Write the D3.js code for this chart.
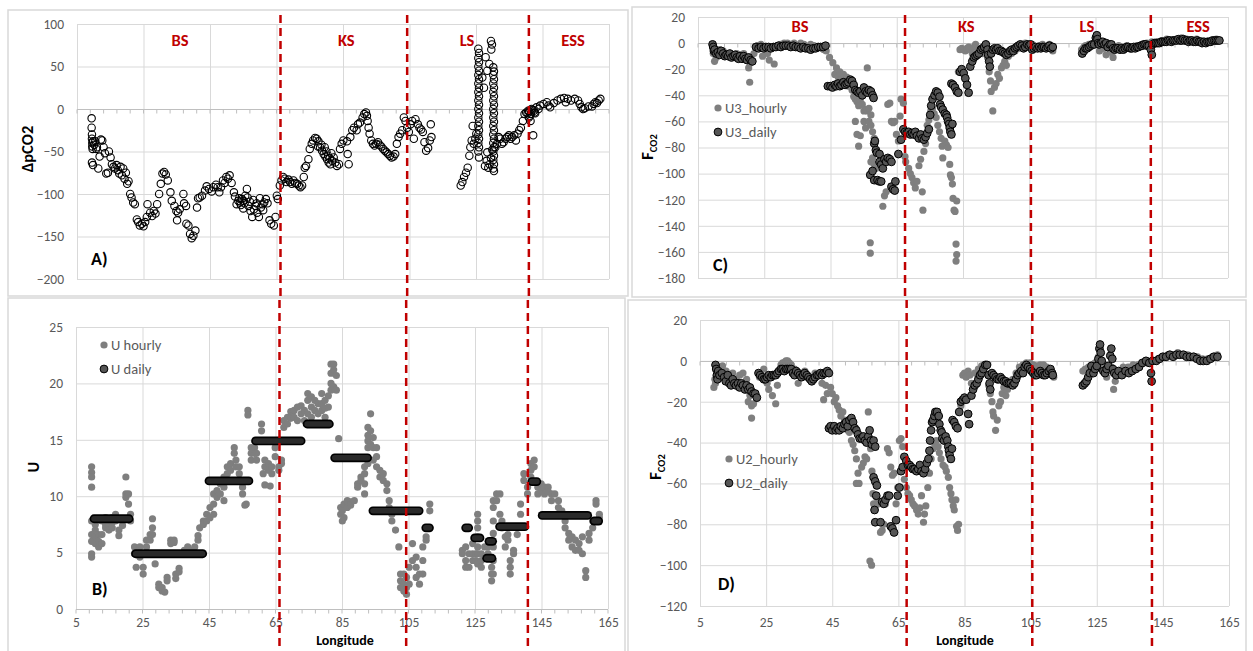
<!DOCTYPE html>
<html>
<head>
<meta charset="utf-8">
<script src="https://cdn.jsdelivr.net/npm/d3@7"></script>
<style>
  body { margin: 0; background: #fff; }
  svg { display: block; }
</style>
</head>
<body>
<svg id="chart" width="1253" height="651"></svg>
<script>
// ---------- axis ticks ----------
const lonTicks = [5, 25, 45, 65, 85, 105, 125, 145, 165];
const dpco2Ticks = [-200, -150, -100, -50, 0, 50, 100];
const uTicks = [0, 5, 10, 15, 20, 25];
const fluxU3Ticks = [-180, -160, -140, -120, -100, -80, -60, -40, -20, 0, 20];
const fluxU2Ticks = [-120, -100, -80, -60, -40, -20, 0, 20];

// ---------- sea regions and their boundaries (longitude) ----------
const regions = ["BS", "KS", "LS", "ESS"];
const regionLabelLonLeft = [36, 86, 122.3, 154.2];
const regionLabelLonRight = [35.8, 86, 122.4, 156];
const boundariesLeft = [66.2, 104.3, 140.9];
const boundariesRight = [67.5, 105.5, 141.7];

// ---------- A) delta pCO2 [lon, value] ----------
const dpco2BS = [[9.4,-11],[9.4,-22],[9.5,-30],[9.5,-35],[9.6,-40],[9.6,-44],[9.7,-47],[9.5,-63],[9.8,-66],[9.8,-38],[10.2,-42],[10.5,-38],[10.8,-47],[11,-45],[11.4,-70],[11.8,-56],[12.2,-36],[12.6,-37],[13,-45],[13.4,-52],[13.8,-76],[14.3,-75],[14.6,-50],[15.1,-57],[15.5,-65],[16,-68],[16.4,-70],[16.9,-66],[17.3,-72],[17.7,-76],[18.1,-68],[18.5,-78],[18.9,-70],[19.3,-82],[19.7,-75],[20.1,-88],[20.5,-85],
  [21,-100],[21.4,-104],[21.9,-110],[22.4,-112],[23,-130],[23.4,-133],[23.9,-137],[24.5,-135],[25,-138],[25.5,-133],[26,-127],[26.2,-112],[27,-122],[27.6,-126],[28.1,-120],[28.6,-123],[29.1,-112],[29.7,-100],[30.2,-88],[30.7,-76],[31.2,-74],[31.7,-77],[32.3,-84],[33.1,-98],[33.5,-108],[34.3,-114],[34.9,-120],[35.1,-131],[35.4,-122],[35.9,-118],[37,-100],[37.2,-111],[37.8,-114],[37.9,-135],[38.5,-137],[39,-147],[39.5,-152],[40,-149],[40.6,-143],[41.1,-116],[41.4,-105],[41.9,-104],[42.6,-102],[43.5,-96],[44,-91],[44.7,-94],[45.5,-97],[46,-92],[46.8,-89],[47.3,-92],[47.8,-98],[48.3,-92],[48.9,-84],[49.4,-87],[49.9,-80],[50.4,-82],[50.9,-78],[51.5,-87],[52.2,-98],[52.5,-103],[53,-112],[53.5,-108],[54,-110],[54.6,-106],[55.1,-108],[55.6,-102],[56.1,-94],[56.3,-104],[56.6,-114],[57.2,-120],[57.7,-127],[58.2,-118],[58.7,-114],[59.2,-122],[59.7,-127],[60.3,-116],[60.8,-112],[61.3,-110],[61.8,-106],[62.3,-111],[62.9,-131],[63.4,-135],[64.2,-137],[64.7,-127],[65.1,-102],[65.4,-106],
  [53.8,-105],[54.3,-113],[55.4,-111],[55,-117],[57,-109],[58,-107],[60,-105],[61,-119],[59,-111]];
const dpco2KS = [[66,-90],[66.5,-84],[67,-80],[67.5,-82],[68,-86],[68.6,-83],[69.1,-86],[69.6,-88],[70.1,-84],[70.6,-87],[71.2,-88],[71.7,-90],[72.2,-92],[72.7,-90],[73.2,-80],[73.5,-69],[73.9,-67],[74.6,-59],[75,-47],[75.6,-41],[76,-37],[76.6,-34],[77.1,-35],[77.6,-38],[78.1,-45],[78.7,-49],[79.2,-53],[79.7,-56],[80.2,-59],[80.7,-63],[81.2,-65],[81.7,-61],[82.2,-57],[82.7,-63],[83.2,-67],[83.8,-65],[84.1,-47],[84.6,-41],[85.1,-37],[86.2,-38],[86.4,-53],[86.7,-65],[87.2,-33],[87.8,-25],[88.3,-22],[89.1,-25],[89.5,-18],[90.1,-16],[90.9,-10],[91.4,-6],[91.9,-4],[92.2,-8],[92.4,-14],[92.7,-22],[93,-29],[93.5,-37],[94,-41],[94.5,-43],[95,-41],[95.5,-39],[96,-42],[96.5,-44],[97.1,-47],[97.6,-49],[98.1,-51],[98.6,-53],[99.1,-55],[99.6,-57],[100.2,-56],[100.7,-53],[101.2,-41],[101.7,-33],[102.2,-29],[102.8,-25],[103.3,-10],[103.8,-14],[104.3,-22],[104.8,-27],[105.3,-18],[105.8,-14],[106.3,-35],[106.8,-12],[107.5,-18],[108,-22],[108.5,-24],[109,-27],[109.5,-39],[110,-49],[110.6,-46],[111.1,-37],[111.4,-18],[111.6,-33],
  [79.5,-45],[80,-50],[80.5,-55],[81,-58],[81.5,-52],[78.5,-42],[77.5,-44]];
const dpco2LS = [[120.4,-90],[120.9,-86],[121.4,-80],[122,-75],[122.5,-69],[123,-55],[123.3,-45],[123.7,-37],[124,-20],[124.3,-41],[124.8,-35],[125.1,-29],
  [125.7,71],[125.9,66],[125.7,60],[125.9,55],[125.7,50],[125.9,45],[125.7,40],[125.9,35],[125.7,30],[125.9,25],[125.7,20],[125.9,15],[125.7,10],[125.9,5],[125.7,0],[125.9,-5],[125.7,-10],[125.9,-15],[125.7,-20],[125.9,-25],[125.7,-30],[125.9,-35],[125.7,-40],[125.9,-45],[125.7,-50],[125.9,-57],
  [130.2,49],[130.4,44],[130.2,40],[130.4,35],[130.2,30],[130.4,25],[130.2,20],[130.4,15],[130.2,10],[130.4,5],[130.2,0],[130.4,-5],[130.2,-10],[130.4,-15],[130.2,-20],[130.4,-25],[130.2,-30],[130.4,-35],[130.2,-40],[130.4,-45],[130.2,-50],[130.4,-55],[130.2,-60],[130.4,-65],[130.2,-70],[130.4,-73],
  [127.9,61],[128.4,45],[129,53],[129.5,80],[129.8,76],[129.6,70],[127.4,25],[126.9,37],[127.7,-67],[128.2,-61],[128.7,-69],[129.1,-65],[128.4,-51],[129.5,-58],[129.9,-48],
  [130.8,-45],[131.3,-41],[131.8,-33],[132.3,-35],[132.8,-41],[133.3,-39],[133.9,-35],[134.4,-33],[134.9,-31],[135.4,-35],[135.9,-33],[136.5,-31],[137,-37],[137.5,-29],[138,-25],[138.5,-22],[139.1,-14],[139.6,-6],[140.1,-4]];
const dpco2ESS = [[140.7,-2],[141.2,-8],[141.4,-14],[141.7,0],[142.2,-31],[142.4,-2],[142.8,-5],[140.5,-5],[141,-3],[141.5,-6],[142,-1],[142.6,-4],[140.9,-10],[143.2,2],[143.8,0],[144.3,4],[145.3,6],[146.3,8],[146.8,4],[147.3,2],[148.4,7],[149.5,10],[150.5,12],[151.5,13],[152,8],[152.6,12],[153.6,10],[154.7,12],[155.7,10],[156.2,6],[156.7,2],[157.2,0],[157.7,1],[158.8,3],[159.9,3],[160.4,6],[160.9,8],[161.4,7],[161.9,10],[162.4,12]];

// ---------- B) wind speed: hourly [lon, U] and daily [lonFrom, lonTo, U] ----------
const uHourlyBS = [[9.7,12.6],[9.7,12.1],[9.7,11.7],[9.7,10.8],[9.7,7.8],[9.7,6.6],[9.7,6.0],[9.7,4.9],[9.7,4.6],[10.8,7.5],[10.8,7.0],[10.8,6.4],[10.8,5.8],[11.8,6.6],[11.8,6.0],[11.8,5.5],[12.8,7.8],[12.8,6.6],[12.8,5.8],[13.9,8.1],[13.9,7.5],[13.9,7.2],[14.9,7.8],[14.9,7.4],[14.9,7.0],[15.9,8.1],[15.9,7.7],[15.9,7.2],[16.9,8.4],[16.9,7.8],[17.9,7.0],[17.9,6.5],[19,7.8],[19,7.4],[20,11.7],[20,10.2],[20,9.9],[20.8,10.2],[20.8,9.3],[21.4,8.4],[21.4,7.8],
  [22.6,5.5],[22.6,4.9],[23.1,3.7],[24.2,5.5],[24.2,4.6],[25.2,3.7],[25.2,3.1],[26.2,6.1],[26.2,5.5],[27.3,6.6],[27.3,6.1],[28,8.0],[28,7.2],[28,6.6],[28.8,4.0],[29.9,2.2],[29.9,1.9],[30.9,1.9],[30.9,1.6],[31.7,1.5],[32.4,2.8],[32.4,2.5],[33.5,6.1],[33.5,5.8],[34.5,6.1],[34.5,5.9],[35,3.1],[35,2.7],[36,3.6],[36,3.3],[36.6,4.9],[37.6,5.2],[37.6,4.9],[38.6,5.5],[38.6,5.2],[39.7,5.2],[40.7,5.5],[41.7,6.5],[41.7,6.1],[42.2,7.2],[43.3,7.8],[43.3,7.5],[44.3,8.4],[44.3,7.8],
  [45.3,9.0],[45.3,8.1],[46.4,10.2],[46.4,9.3],[46.4,8.4],[47.4,10.5],[47.4,9.9],[48.4,11.1],[48.4,10.2],[49.5,11.7],[49.5,10.8],[49.5,9.6],[50.5,12.6],[50.5,12.0],[51.5,12.9],[51.5,12.3],[52.6,14.3],[52.6,13.8],[53.1,13.2],[53.1,12.6],[54.1,12.6],[54.1,12.0],[55.1,10.8],[55.1,10.2],[55.8,9.2],[56.2,9.3],[56.7,17.6],[56.7,17.2],[57.7,14.3],[57.7,13.8],[57.7,13.2],[58.7,14.3],[58.7,13.8],[59.3,13.8],[59.3,13.2],[60.8,16.4],[60.8,15.8],[61.3,12.0],[61.8,13.2],[61.8,12.6],[61.8,11.0],[62.9,12.9],[62.9,12.3],[63.4,10.9],[63.9,12.6],[63.9,12.0],[64.9,14.3],[64.9,13.5]];
const uHourlyKS = [[66,12.6],[66,12.3],[66.8,13.2],[66.8,12.9],[67.5,16.7],[67.5,16.1],[68.6,17.0],[68.6,16.4],[69.6,17.5],[69.6,16.9],[70.6,17.6],[70.6,17.0],[71.6,17.9],[71.6,16.7],[72.7,18.0],[72.7,17.3],[73.7,17.6],[73.7,16.7],[74.7,19.1],[74.7,18.5],[74.7,17.3],[75.8,18.8],[75.8,17.9],[75.8,17.0],[76.8,18.5],[76.8,17.6],[77.8,18.2],[77.8,17.3],[78.9,19.1],[78.9,18.2],[78.9,17.6],[79.9,18.5],[79.9,17.8],[79.9,17.0],[80.9,18.9],[80.9,17.9],[81.7,21.7],[81.7,20.9],[81.7,20.0],[81.7,19.4],[82.5,21.7],[82.5,21.2],[82.5,19.7],[83.3,20.7],[83.3,19.4],[84,15.1],
  [84.6,9.0],[84.6,8.4],[85.1,8.7],[85.1,7.8],[85.6,9.3],[85.6,8.1],[86.6,9.6],[86.6,9.0],[87.6,9.5],[87.6,9.2],[88.7,9.6],[89.7,11.1],[89.7,10.8],[90.7,11.7],[90.7,11.4],[91.8,12.6],[91.8,12.0],[91.8,11.1],[91.8,10.2],[92.8,16.1],[92.8,15.4],[92.8,14.9],[92.8,14.3],[92.8,12.9],[93.6,17.3],[93.6,15.8],[93.6,14.6],[94.4,15.2],[94.4,14.3],[94.4,13.2],[95.4,14.3],[95.4,13.5],[95.4,12.6],[96.4,12.3],[96.4,11.7],[97.4,12.0],[97.4,11.4],[98.5,11.1],[98.5,10.5],[99.2,9.6],[99.2,9.0],[100,8.4],[100,7.8],[101.1,7.0],[102.1,5.5],[102.6,3.1],[102.6,2.5],[102.6,1.9],[103.6,3.1],[103.6,2.2],[103.6,1.6],[104.4,2.8],[104.4,1.9],[104.4,1.3],[105.2,3.7],[105.2,2.2],[106.2,5.8],[106.2,4.3],[107.3,4.6],[107.3,3.7],[107.3,2.8],[108.3,3.1],[108.3,2.2],[109.3,5.5],[109.3,4.3],[109.3,3.1],[110.3,6.4],[110.3,6.1],[111.4,9.3],[111.4,8.7]];
const uHourlyLE = [[121.2,5.2],[121.2,4.9],[122.2,5.5],[122.2,4.3],[122.2,3.7],[123.2,4.9],[123.2,3.7],[124.3,5.8],[124.3,4.9],[124.3,4.3],[125.3,4.9],[125.3,4.3],[125.8,8.4],[125.8,7.8],[125.8,7.2],[125.8,6.4],[125.8,5.5],[125.8,4.9],[125.8,4.0],[126.9,4.9],[126.9,4.3],[126.9,3.7],[127.9,5.5],[127.9,4.6],[128.9,5.5],[128.9,4.9],[130,3.7],[130,3.1],[130,2.5],[130.5,9.6],[130.5,9.0],[130.5,7.8],[130.5,6.7],[130.5,5.5],[130.5,4.3],[130.5,3.1],[131.5,10.2],[131.5,9.6],[132.5,10.2],[132.5,8.4],[133.1,7.8],[133.1,7.2],[134.1,6.4],[134.1,5.5],[134.9,6.6],[134.9,6.1],[135.6,4.3],[135.6,3.7],[135.6,3.1],[136.6,4.9],[136.6,5.2],[137.7,7.2],[137.7,6.6],[138.7,9.3],[138.7,8.4],[139.7,12.0],[139.7,11.4],[140.8,10.8],[140.8,10.2],[141.8,12.9],[141.8,12.3],[141.8,11.7],[142.8,13.2],[142.8,12.6],[143.9,10.8],[143.9,10.2],[144.9,11.1],[144.9,10.5],[145.9,10.8],[145.9,10.2],[147,10.8],[147,10.4],[148,10.2],[148,9.6],[149,10.2],[150.1,9.6],[150.1,9.0],[151.1,8.7],[151.1,8.4],[152.1,7.8],[152.1,7.2],[153.2,6.7],[153.2,6.1],[154.2,6.4],[154.2,5.5],[155.2,6.1],[155.2,5.2],[156.3,5.8],[156.3,5.2],[157.3,6.4],[157.3,4.9],[158.3,3.4],[158.3,2.8],[159.3,6.7],[159.3,6.1],[160.4,7.8],[160.4,7.2],[161.4,9.6],[161.4,9.3],[162.4,8.4],[162.4,8.1]];
const uDailySteps = [[10.4,21.0,8.0],[22.9,43.1,4.9],[45.0,57.0,11.35],[59.0,72.7,14.9],[74.5,81.2,16.4],[82.8,92.7,13.4],[94.3,108.2,8.7],[110.2,111.3,7.2],[122.2,123.1,7.2],[124.9,126.5,6.3],[129.2,130.3,6.0],[128.5,130.1,4.5],[132.4,140.0,7.3],[142.1,143.6,11.3],[145.2,158.9,8.3],[160.8,162.2,7.8]];

// ---------- C) CO2 flux with U3: hourly and daily [lon, flux] ----------
const f3HourlyBS = [[9.4,-3],[9.6,-8],[10,-14],[10.5,-11],[11.5,-5],[12.6,-6],[13.6,-9],[14.6,-8],[15.7,-9],[16.7,-8],[17.7,-9],[18.8,-8],[19.8,-12],[20.3,-19],[20.6,-30],[20.9,-15],[21.9,-8],
  [23,-2],[24,-1],[24.5,-10],[25,-3],[26,-8],[26.5,-13],[27,-4],[28,-16],[29,-2],[30,-1],[31,0],[32,0],[33,-1],[34,0],[35,-2],[36,0],[37,-1],[38,-3],[39,-1],[40,-2],[41,-4],[42,-3],[43,-5],
  [43.7,-6],[44.7,-11],[45.7,-15],[46.3,-24],[46.8,-19],[47.3,-26],[47.8,-22],[48.3,-28],[48.9,-24],[49.4,-31],[49.9,-26],[50.4,-33],[51,-29],[51.5,-36],[52,-41],[52.5,-43],[53,-45],[53.5,-48],[54,-43],[54.6,-47],[55.1,-52],[55.6,-51],[56.1,-19],[56.1,-52],[56.6,-50],[57.2,-55],[52.5,-60],[53,-70],[53.5,-79],[54,-71],[55.1,-60],[55.6,-65],[56.6,-60],[57.2,-63],[57.7,-68],[58.2,-73],[58.7,-83],[57.2,-91],[57.7,-88],[58.2,-93],[58.7,-96],[59.2,-106],[60.8,-125],[61.3,-117],[61.8,-114],[62.3,-47],[62.9,-46],[63.4,-60],[63.9,-61],[64.4,-60],[64.9,-70],[65.5,-75],[66,-56],[66.3,-43],[67,-46],[57,-153],[57,-161]];
const f3HourlyKS = [[67.5,-87],[67.7,-91],[68.6,-96],[69.1,-100],[69.6,-103],[70.1,-107],[70.6,-111],[71.1,-106],[71.7,-94],[72.2,-89],[72.7,-114],[72.9,-128],[73.2,-83],[73.7,-77],[74.2,-63],[74.7,-59],[75.3,-52],[75.8,-50],[76.3,-54],[76.9,-57],[77.4,-63],[77.9,-68],[78.4,-73],[78.7,-79],[78.9,-88],[79.5,-75],[80,-78],[80.5,-80],[81,-93],[81.2,-101],[81.5,-103],[81.8,-108],[82,-119],[82.3,-128],[82.6,-129],[83.1,-121],[82.9,-154],[83.1,-162],[82.9,-167],[83.6,-22],[84.1,-5],[84.6,-4],[85.2,-5],[85.7,-6],[86.2,-4],[86.7,-3],[87.2,-5],[87.8,-8],[88.3,-3],[88.8,-1],[89.3,-4],[89.8,-5],[90.4,-6],[90.9,-8],[91.9,-5],[92.4,-11],[92.9,-22],[93.3,-29],[93.5,-37],[94,-52],[94.5,-34],[95,-31],[95.5,-24],[96,-27],[96.6,-19],[97.1,-17],[97.6,-14],[98.1,-17],[98.7,-10],[99.7,-8],[100.7,-6],[101.7,-4],[102.8,-1],[103.8,0],[104.9,-1],[105.9,-1],[106.9,-4],[108,-2],[109,-1],[110.1,-3],[111.1,-1],[112.1,-6]];
const f3HourlyLE = [[120.8,-5],[121.5,-3],[122,-2],[123,-1],[124,-2],[125,0],[125.5,2],[126.2,-6],[127,-2],[127.5,-4],[128.2,-9],[129,-3],[129.5,-7],[130.3,-11],[131,-4],[132,-2],[133,-3],[134.5,-2],[136,-4],[137.5,-2],[139,-1],[140.5,0],[142,1],[143.5,1],[145,2],[146.5,3],[148,2],[149.5,3],[151,4],[152.5,3],[154,2],[155.5,3],[157,2],[158.5,1],[160,2],[161.5,3],[162.5,2]];
const f3DailyBS = [[9.4,-1],[9.6,-3],[9.8,-6],[10,-5],[10.5,-8],[11,-7],[11.5,-9],[12,-6],[12.6,-8],[13.1,-10],[13.6,-9],[14.1,-10],[14.6,-8],[15.1,-11],[15.7,-10],[16.2,-9],[16.7,-11],[17.2,-12],[17.7,-10],[18.3,-12],[18.8,-10],[19.3,-12],[19.8,-13],[20.3,-11],[20.9,-13],[21.4,-14],
  [22.5,-3],[23.3,-4],[24,-3],[24.8,-4],[25.5,-3],[26.3,-3],[27,-4],[27.8,-3],[28.5,-3],[29.3,-2],[30,-3],[30.8,-2],[31.5,-2],[32.3,-2],[33,-3],[33.8,-2],[34.5,-3],[35.3,-3],[36,-4],[36.8,-3],[37.5,-4],[38.3,-4],[39,-5],[39.8,-4],[40.5,-4],[41.3,-3],[42,-3],[42.8,-3],[43.5,-2],
  [44.2,-33],[45,-33],[45.6,-34],[46.3,-32],[46.8,-33],[47.3,-31],[47.8,-33],[48.3,-32],[48.9,-30],[49.4,-32],[49.9,-31],[50.4,-30],[51,-28],[51.5,-29],[52,-32],[52.5,-36],[53,-37],[53.5,-38],[54,-37],[54.6,-40],[55.1,-34],[55.6,-37],[56.1,-38],[56.6,-36],[57.2,-37],[57.7,-40],[58,-42],
  [58.2,-77],[58.4,-75],[58.7,-82],[59,-84],[59.8,-85],[59.8,-91],[60.3,-93],[60.8,-96],[61.3,-89],[61.8,-91],[62.3,-88],[62.9,-89],[63.4,-91],[57,-101],[57.7,-98],[58.2,-105],[59.2,-105],[59.8,-106],[60.3,-106],[63.4,-110],[63.9,-112],[64.4,-113],[64.6,-106],[65.5,-85],[66.3,-74]];
const f3DailyKS = [[67,-66],[67.5,-68],[68,-69],[68.6,-68],[69.1,-70],[69.6,-69],[70.1,-70],[70.6,-68],[71.1,-71],[71.7,-73],[72.2,-70],[72.7,-73],[73.2,-74],[73.7,-72],[74.2,-69],[74.7,-66],[75.1,-55],[75.4,-48],[75.8,-43],[76.4,-40],[76.9,-37],[77.4,-38],[77.9,-41],[78.1,-47],[78.4,-49],[78.9,-51],[79.5,-54],[80,-55],[80.2,-57],[80.5,-60],[80.8,-62],[81,-65],[81.2,-68],[81.5,-70],[81.8,-62],[81.5,-31],[82,-32],[82.6,-34],[83.1,-37],[83.6,-38],[84.1,-22],[84.6,-20],[85.2,-23],[85.7,-27],[86.2,-32],[86.7,-38],[87.2,-18],[87.8,-14],[88.3,-11],[88.8,-10],[89.3,-9],[89.8,-8],[90.4,-5],[90.9,-4],[91.4,-3],[91.9,-1],[92.4,-5],[92.6,-9],[92.9,-14],[93.1,-18],[93.5,-8],[94,-5],[94.5,-4],[95,-5],[95.5,-4],[96,-6],[96.6,-6],[97.1,-7],[97.6,-8],[98.1,-9],[98.7,-8],[99.2,-6],[99.7,-5],[100.2,-6],[100.7,-4],[101.2,-3],[101.7,-2],[102.3,-1],[102.8,-2],[103.3,-4],[103.8,-3],[104.4,-1],[104.9,-2],[105.4,-1],[105.9,-5],[106.4,-4],[106.9,-3],[107.5,-4],[108,-3],[108.5,-4],[109,-3],[109.5,-3],[110.1,-4],[110.6,-3],[111.1,-2],[111.6,-4],[112.1,-3]];
const f3DailyLE = [[121,-8],[121.5,-6],[122,-4],[122.5,-4],[123,-3],[123.5,-2],[124,-1],[124.6,-1],[125.1,4],[125.4,6],[125.6,3],[125.8,0],[126.1,-1],[126.7,0],[127.2,1],[127.7,-1],[128.2,0],[128.7,-3],[129.3,-1],[129.8,-1],[130.3,-4],[130.8,-5],[131.3,-4],[131.8,-4],[132.4,-5],[132.9,-4],[133.4,-5],[133.9,-4],[134.4,-3],[134.9,-3],[135.5,-4],[136,-4],[136.5,-3],[137,-4],[137.5,-3],[138,-3],[138.6,-2],[139.1,-2],[139.6,-1],[140.1,-1],[140.6,-2],[141.1,-2],[141.7,-5],[142,-9],[142.2,-1],[142.8,0],[143.3,0],[143.8,0],[144.3,0],[144.8,1],[145.3,1],[145.9,1],[146.4,1],[146.9,2],[147.4,2],[147.9,1],[148.4,2],[148.9,2],[149.5,2],[150,3],[150.5,2],[151,2],[151.5,3],[152,2],[152.6,2],[153.1,1],[153.6,2],[154.1,2],[154.6,1],[155.2,1],[155.7,2],[156.2,1],[156.7,1],[157.2,0],[157.8,1],[158.3,0],[158.8,1],[159.3,1],[159.8,1],[160.3,2],[160.9,2],[161.4,2],[161.9,2],[162.4,2]];

// ---------- D) CO2 flux with U2: hourly and daily [lon, flux] ----------
const f2HourlyBS = [[9.2,-13],[9.5,-9],[9.7,-11],[10.3,-4],[10.8,-6],[11.8,-2.5],[12.9,-5],[13.9,-7],[14.9,-6],[16,-9],[17,-7],[18,-6],[19.1,-9],[19.6,-20],[20.1,-17],[20.6,-28],[20.6,-22],[21.2,-21],[21.7,-16],
  [23,-8],[24.3,-4],[25.3,-11],[25.8,-14],[26.9,-17],[27.9,-21],[28.4,-12],[29.5,-2],[30,-1],[30.5,-1],[31,0],[31.5,0],[32,-1],[32.6,-2],[33.6,-4],[34.7,-11],[35.7,-7],[36.7,-5],[38.3,-9],[39.8,-6],[40.9,-7],[41.9,-11],[42.4,-19],[43,-12],[43.5,-16],
  [44.5,-13],[45,-16],[45.6,-20],[46.1,-18],[46.6,-22],[47.1,-24],[47.6,-27],[48.2,-25],[48.7,-29],[49.2,-30],[49.7,-34],[50.2,-35],[50.8,-39],[51.3,-41],[51.8,-44],[52.3,-48],[52.3,-60],[52.8,-55],[53.1,-60],[53.9,-52],[54.4,-50],[54.9,-47],[55.4,-48],[55.9,-25],[56.4,-39],[56.6,-43],[57,-54],[57.3,-65],[57.5,-70],[58,-71],[58.5,-67],[59,-70],[59.6,-84],[60.1,-83],[60.6,-80],[61.1,-70],[61.7,-43],[62.2,-45],[62.7,-52],[63.2,-56],[63.7,-55],[64.3,-70],[64.8,-62],[65.3,-39],[65.8,-38],[66.3,-42],[56.4,-98],[56.9,-100]];
const f2HourlyKS = [[66.8,-58],[67.4,-62],[67.9,-65],[68.4,-66],[68.9,-68],[69.4,-70],[69.9,-71],[70.5,-73],[71,-75],[71.5,-72],[72,-66],[72.6,-79],[72.9,-75],[73.3,-71],[73.9,-62],[74.4,-55],[74.9,-48],[75.5,-43],[76,-40],[76.5,-39],[77,-42],[77.4,-45],[77.9,-48],[78.5,-51],[79.1,-52],[79.5,-54],[80.1,-57],[80.5,-62],[80.9,-65],[81.2,-68],[81.6,-71],[81.9,-73],[82.4,-68],[82.6,-81],[82.9,-83],[83.2,-80],[83.9,-22],[84.5,-7],[85,-6],[85.5,-8],[86.1,-5],[86.6,-7],[87.1,-11],[88.1,-6],[89.2,-4],[90.2,-2.5],[91.3,-3],[92.3,-12],[92.8,-16],[93.3,-20],[93.6,-25],[93.8,-27],[94.4,-34],[94.9,-29],[95.4,-22],[95.9,-20],[96.4,-16],[96.9,-13],[97.5,-17],[98,-14],[98.5,-11],[99.6,-9],[100.6,-6],[101.6,-3],[102.7,-2],[103.7,-1],[104.8,-1],[105.8,-2],[106.8,-2.5],[107.9,-2],[108.9,-2],[109.9,-3],[111,-4],[112,-8]];
const f2HourlyLE = [[120.8,-5],[121.5,-4],[122.5,-3],[123.5,-2],[124.5,-1],[125.5,2],[126.5,-3],[127.5,-2],[128,-8],[128.5,-5],[129.5,-3],[130.1,-14],[130.6,-10],[131.5,-5],[133,-3],[134.5,-3],[136,-2],[137.5,-2],[139,-1],[140.5,-1],[142,0],[143.5,1],[145,2],[146.5,3],[148,3],[149.5,4],[151,3],[152.5,3],[154,2],[155.5,2],[157,1],[158.5,1],[160,2],[161.5,3]];
const f2DailyBS = [[9.7,-2],[9.9,-4],[10.1,-7],[10.3,-9],[10.5,-5],[10.9,-7],[11.6,-6],[12.3,-8],[12.8,-10],[13.4,-7],[13.9,-11],[14.4,-12],[14.9,-9],[15.4,-11],[15.9,-12],[16.5,-11],[17,-13],[17.5,-11],[18,-12],[18.6,-14],[19.1,-12],[19.6,-14],[20.1,-13],[20.6,-15],[21.2,-16],[21.7,-16],[22.2,-18],
  [22.7,-6],[23.2,-7],[23.8,-8],[24.3,-9],[24.8,-9],[25.3,-8],[25.8,-7],[26.4,-8],[26.9,-7],[27.4,-7],[27.9,-7],[28.4,-6],[28.9,-5],[29.5,-4],[30,-4],[30.5,-5],[31,-4],[31.5,-4],[32.1,-4],[32.6,-4],[33.1,-6],[33.6,-7],[34.1,-5],[34.7,-6],[35.2,-7],[35.7,-8],[36.2,-7],[36.7,-6],[37.3,-7],[37.8,-8],[38.3,-9],[38.8,-10],[39.3,-9],[39.8,-8],[40.4,-7],[40.9,-7],[41.4,-6],[41.9,-7],[42.4,-6],[43,-6],[43.5,-5],[44,-6],
  [44,-33],[44.5,-32],[45,-34],[45.6,-32],[46.1,-34],[46.6,-33],[47.1,-34],[47.6,-32],[48.2,-33],[48.7,-31],[49.2,-30],[49.7,-32],[50.2,-29],[50.8,-28],[51.3,-30],[51.8,-33],[52.3,-34],[52.8,-36],[53.3,-38],[53.9,-38],[54.4,-37],[54.9,-39],[55.4,-40],[55.9,-37],[56.3,-34],[56.7,-39],[57,-41],[57.5,-39],[58,-42],
  [57.5,-57],[58,-59],[58.5,-61],[58.3,-66],[57.8,-73],[58,-79],[59.6,-79],[60.1,-69],[60.6,-70],[61.1,-68],[61.7,-66],[62.2,-66],[62.7,-81],[63.2,-82],[63.7,-84],[64.3,-78],[64.8,-66],[65.3,-62]];
const f2DailyKS = [[65.8,-54],[66.3,-52],[66.8,-47],[67.4,-49],[67.9,-51],[68.4,-51],[68.9,-52],[69.4,-53],[69.9,-53],[70.5,-54],[71,-53],[71.5,-51],[72,-54],[72.6,-55],[73.1,-53],[73.6,-50],[74.1,-48],[74.4,-44],[74.6,-39],[74.9,-34],[75.2,-30],[75.5,-29],[75.9,-27],[76.2,-25],[76.7,-25],[77.2,-27],[77.4,-31],[77.8,-34],[78.1,-35],[78.3,-38],[78.8,-39],[79.3,-37],[79.8,-39],[80.1,-42],[80.3,-44],[80.5,-46],[80.9,-48],[81.2,-43],[81.4,-29],[81.9,-30],[82.4,-32],[82.9,-33],[83.4,-25],[83.9,-20],[84.5,-19],[85,-18],[85.5,-19],[86.1,-26],[86.4,-31],[87.1,-17],[87.6,-14],[88.1,-12],[88.7,-11],[89.2,-9],[89.7,-7],[90.2,-6],[90.7,-4],[91.3,-2],[91.8,-2],[92.3,-7],[92.6,-11],[92.8,-14],[93.3,-6],[93.8,-7],[94.4,-8],[94.9,-9],[95.4,-9],[95.9,-8],[96.4,-9],[96.9,-10],[97.5,-10],[98,-11],[98.5,-11],[99,-11],[99.6,-12],[100.1,-11],[100.6,-9],[101.1,-7],[101.6,-6],[102.2,-5],[102.7,-6],[103.2,-3],[103.7,-2],[104.2,-3],[104.8,-4],[105.3,-5],[105.8,-6],[106.3,-7],[106.8,-7],[107.3,-6],[107.9,-5],[108.4,-6],[108.9,-7],[109.4,-7],[109.9,-6],[110.5,-5],[111,-4],[111.5,-6],[111.7,-7]];
const f2DailyLE = [[120.8,-12],[121.4,-11],[121.9,-10],[122.4,-8],[122.9,-6],[123.4,-2.5],[124,-6],[124.5,-4],[125,-2.5],[125.5,1],[125.8,6],[126,8],[126.2,4],[126.5,0],[127,-5],[127.5,-6],[128,-4],[128.5,-2.5],[129.1,2.5],[129.4,6],[129.7,1],[129.9,-4],[130.3,-6],[130.9,-7],[131.6,-5],[132.6,-7],[133.7,-5],[134.7,-6],[135.7,-5],[136.8,-4],[137.8,-3],[138.8,-1],[139.9,0],[140.9,-1],[141.4,-6],[141.6,-10],[141.9,0],[143,0],[144,1],[145,2],[146,2],[147.1,3],[148.1,2],[149.1,3],[150.1,3],[151.2,3],[152.2,2],[153.2,2],[154.3,2],[155.3,1],[156.3,0],[157.3,0],[158.3,0],[159.4,1],[160.4,2],[161.5,2]];

// ---------- drawing ----------
const FONT = "Carlito, Calibri, Lato, 'Open Sans', sans-serif";
const GRID = "#d9d9d9", AXIS = "#bfbfbf", TICKTEXT = "#595959", RED = "#c00000";
const HOURLY = "#7f7f7f", DAILY = "#555555";
const svg = d3.select("#chart").attr("font-family", FONT);

function panel(cfg) {
  const g = svg.append("g");
  g.append("rect")
    .attr("x", cfg.frame[0]).attr("y", cfg.frame[1])
    .attr("width", cfg.frame[2]).attr("height", cfg.frame[3])
    .attr("fill", "none").attr("stroke", GRID).attr("stroke-width", 1.5);

  const x = d3.scaleLinear().domain(d3.extent(lonTicks)).range([cfg.left, cfg.right]);
  const y = d3.scaleLinear().domain(d3.extent(cfg.yTicks)).range([cfg.bottom, cfg.top]);
  const w = cfg.right - cfg.left, h = cfg.bottom - cfg.top;

  const gy = g.append("g").attr("transform", `translate(${cfg.left},0)`)
    .call(d3.axisLeft(y).tickValues(cfg.yTicks).tickSize(-w).tickPadding(cfg.yPad));
  gy.select(".domain").remove();
  gy.selectAll("line").attr("stroke", GRID);
  gy.selectAll("text").attr("fill", TICKTEXT).attr("font-size", 13.5).attr("font-family", FONT);

  const gx = g.append("g").attr("transform", `translate(0,${cfg.bottom})`)
    .call(d3.axisBottom(x).tickValues(lonTicks).tickSize(-h).tickPadding(cfg.xPad || 3)
      .tickFormat(cfg.xLabels ? d3.format("d") : () => ""));
  gx.select(".domain").remove();
  gx.selectAll("line").attr("stroke", GRID);
  gx.selectAll("text").attr("fill", TICKTEXT).attr("font-size", 13.5).attr("font-family", FONT);

  // horizontal axis line with minor tick marks
  const y0 = Math.round(y(cfg.axisAt)) + 0.5;
  g.append("line").attr("x1", cfg.left).attr("x2", cfg.right)
    .attr("y1", y0).attr("y2", y0).attr("stroke", AXIS).attr("stroke-width", 1);
  g.selectAll(null).data(d3.range(lonTicks[0], lonTicks[lonTicks.length - 1] + 1, 4)).join("line")
    .attr("x1", d => x(d)).attr("x2", d => x(d))
    .attr("y1", y0).attr("y2", y0 + 4)
    .attr("stroke", AXIS).attr("stroke-width", 1);

  return { g, x, y };
}

function hourlyDots(p, data) {
  p.g.append("g").selectAll("circle").data(data).join("circle")
    .attr("cx", d => p.x(d[0])).attr("cy", d => p.y(d[1])).attr("r", 3.6)
    .attr("fill", HOURLY);
}
function dailyDots(p, data) {
  p.g.append("g").selectAll("circle").data(data).join("circle")
    .attr("cx", d => p.x(d[0])).attr("cy", d => p.y(d[1])).attr("r", 3.9)
    .attr("fill", DAILY).attr("stroke", "#000").attr("stroke-width", 1);
}
function dividers(p, lons, y1, y2) {
  p.g.append("g").selectAll("line").data(lons).join("line")
    .attr("x1", d => p.x(d)).attr("x2", d => p.x(d))
    .attr("y1", y1).attr("y2", y2)
    .attr("stroke", RED).attr("stroke-width", 2.5).attr("stroke-dasharray", "8,5");
}
function regionLabels(p, lons, yPx) {
  p.g.append("g").selectAll("text").data(regions).join("text")
    .attr("x", (d, i) => p.x(lons[i])).attr("y", yPx)
    .attr("text-anchor", "middle").attr("font-weight", "bold").attr("font-size", 16.5)
    .attr("fill", RED).text(d => d);
}
function tag(p, text, x, y) {
  p.g.append("text").attr("x", x).attr("y", y)
    .attr("font-weight", "bold").attr("font-size", 18).attr("fill", "#000").text(text);
}
function yTitle(p, cx, cy, main, sub) {
  const t = p.g.append("text").attr("transform", `translate(${cx},${cy}) rotate(-90)`)
    .attr("text-anchor", "middle").attr("font-weight", "bold").attr("font-size", 16.5).attr("fill", "#000");
  t.append("tspan").text(main);
  if (sub) t.append("tspan").attr("font-size", 10.5).attr("dy", 4).text(sub);
}
function xTitle(p, cx, cy) {
  p.g.append("text").attr("x", cx).attr("y", cy).attr("text-anchor", "middle")
    .attr("font-weight", "bold").attr("font-size", 14).attr("fill", "#000").text("Longitude");
}
function legend(p, x, y, labels) {
  const lg = p.g.append("g");
  labels.forEach((lab, i) => {
    const cy = y + i * 24;
    const c = lg.append("circle").attr("cx", x).attr("cy", cy).attr("r", i === 0 ? 3.6 : 3.9);
    if (i === 0) c.attr("fill", HOURLY);
    else c.attr("fill", DAILY).attr("stroke", "#000").attr("stroke-width", 1);
    lg.append("text").attr("x", x + 7).attr("y", cy + 5).attr("font-size", 14.5)
      .attr("fill", TICKTEXT).text(lab);
  });
}

// ---- A) delta pCO2 ----
const pA = panel({ frame: [8, 10, 620, 286], left: 77, right: 609, top: 24, bottom: 279,
  yTicks: dpco2Ticks, yPad: 13, axisAt: 0, xLabels: false });
pA.g.append("g").selectAll("circle")
  .data([].concat(dpco2BS, dpco2KS, dpco2LS, dpco2ESS)).join("circle")
  .attr("cx", d => pA.x(d[0])).attr("cy", d => pA.y(d[1])).attr("r", 3.7)
  .attr("fill", "none").attr("stroke", "#000").attr("stroke-width", 1.1);
dividers(pA, boundariesLeft, 15, 296);
regionLabels(pA, regionLabelLonLeft, 46);
tag(pA, "A)", 91, 265);
yTitle(pA, 33, 149, "\u0394pCO2");

// ---- B) U ----
const pB = panel({ frame: [8, 298, 617, 360], left: 76, right: 608, top: 327, bottom: 609,
  yTicks: uTicks, yPad: 13, axisAt: 0, xLabels: true, xPad: 8 });
hourlyDots(pB, [].concat(uHourlyBS, uHourlyKS, uHourlyLE));
const steps = pB.g.append("g");
steps.selectAll("line.outer").data(uDailySteps).join("line").attr("class", "outer")
  .attr("x1", d => pB.x(d[0])).attr("x2", d => pB.x(d[1]))
  .attr("y1", d => pB.y(d[2])).attr("y2", d => pB.y(d[2]))
  .attr("stroke", "#000").attr("stroke-width", 8.8).attr("stroke-linecap", "round");
steps.selectAll("line.inner").data(uDailySteps).join("line").attr("class", "inner")
  .attr("x1", d => pB.x(d[0])).attr("x2", d => pB.x(d[1]))
  .attr("y1", d => pB.y(d[2])).attr("y2", d => pB.y(d[2]))
  .attr("stroke", "#2a2a2a").attr("stroke-width", 5.5).attr("stroke-linecap", "round");
dividers(pB, boundariesLeft, 300, 651);
tag(pB, "B)", 92, 595);
yTitle(pB, 39, 467, "U");
xTitle(pB, 345, 645);
legend(pB, 104, 345, ["U hourly", "U daily"]);

// ---- C) F_CO2 with U3 ----
const pC = panel({ frame: [632, 7, 614, 290], left: 698, right: 1228, top: 17, bottom: 278,
  yTicks: fluxU3Ticks, yPad: 13, axisAt: 0, xLabels: false });
hourlyDots(pC, [].concat(f3HourlyBS, f3HourlyKS, f3HourlyLE));
dailyDots(pC, [].concat(f3DailyBS, f3DailyKS, f3DailyLE));
dividers(pC, boundariesRight, 15, 296);
regionLabels(pC, regionLabelLonRight, 32);
tag(pC, "C)", 713, 271);
yTitle(pC, 653, 147, "F", "CO2");
legend(pC, 718, 108, ["U3_hourly", "U3_daily"]);

// ---- D) F_CO2 with U2 ----
const pD = panel({ frame: [628, 300, 618, 360], left: 700, right: 1229, top: 320, bottom: 606,
  yTicks: fluxU2Ticks, yPad: 13, axisAt: 0, xLabels: true, xPad: 11 });
hourlyDots(pD, [].concat(f2HourlyBS, f2HourlyKS, f2HourlyLE));
dailyDots(pD, [].concat(f2DailyBS, f2DailyKS, f2DailyLE));
dividers(pD, boundariesRight, 300, 651);
tag(pD, "D)", 718, 590);
yTitle(pD, 661, 467, "F", "CO2");
xTitle(pD, 965, 645);
legend(pD, 729, 459, ["U2_hourly", "U2_daily"]);
</script>
</body>
</html>
